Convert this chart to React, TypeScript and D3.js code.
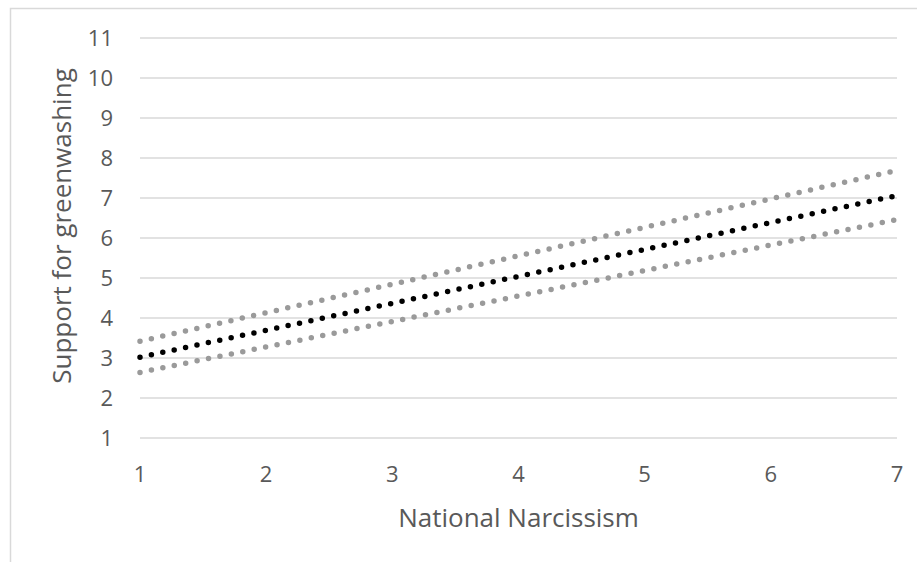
import React, { useEffect } from "react";
import * as d3 from "d3";

const xTicks = [1, 2, 3, 4, 5, 6, 7];
const yTicks = [1, 2, 3, 4, 5, 6, 7, 8, 9, 10, 11];
const xEnds = [1, 7];
const mainLine = [3.02, 7.06];
const upperBand = [3.42, 7.69];
const lowerBand = [2.64, 6.46];
const xTitle = "National Narcissism";
const yTitle = "Support for greenwashing";

const W = 917;
const H = 562;
const FONT = "'Open Sans', sans-serif";
const TEXT = "#595959";
const GRID = "#d9d9d9";

export default function App() {
  useEffect(() => {
    document.body.style.margin = "0";
  }, []);

  const x = d3.scaleLinear().domain([1, 7]).range([140, 897]);
  const y = d3.scaleLinear().domain([1, 11]).range([438, 38]);

  const line = d3
    .line<[number, number]>()
    .x((d) => x(d[0]))
    .y((d) => y(d[1]));

  const series = [
    { vals: upperBand, color: "#9a9a9a" },
    { vals: lowerBand, color: "#9a9a9a" },
    { vals: mainLine, color: "#000000" },
  ];

  return (
    <svg width={W} height={H} style={{ display: "block" }}>
      <rect width={W} height={H} fill="#ffffff" />
      <rect x={10.5} y={8.5} width={2000} height={2000} fill="none" stroke={GRID} strokeWidth={1.5} />
      {yTicks.map((t) => (
        <line key={"g" + t} x1={x(1)} x2={x(7)} y1={y(t)} y2={y(t)} stroke={GRID} strokeWidth={1.5} />
      ))}
      {yTicks.map((t) => (
        <text key={"yl" + t} x={113} y={y(t) + 7.8} textAnchor="end" fontFamily={FONT} fontSize={22} fill={TEXT}>
          {t}
        </text>
      ))}
      {xTicks.map((t) => (
        <text key={"xl" + t} x={x(t)} y={482} textAnchor="middle" fontFamily={FONT} fontSize={22} fill={TEXT}>
          {t}
        </text>
      ))}
      {series.map((s, i) => (
        <path
          key={"s" + i}
          d={line(xEnds.map((xv, j) => [xv, s.vals[j]] as [number, number])) || ""}
          fill="none"
          stroke={s.color}
          strokeWidth={5.5}
          strokeLinecap="round"
          strokeDasharray="0 11.65"
        />
      ))}
      <text x={(x(1) + x(7)) / 2} y={527} textAnchor="middle" fontFamily={FONT} fontSize={26} fill={TEXT}>
        {xTitle}
      </text>
      <text
        transform={`translate(71, ${(y(1) + y(11)) / 2 - 12}) rotate(-90)`}
        textAnchor="middle"
        fontFamily={FONT}
        fontSize={26}
        fill={TEXT}
      >
        {yTitle}
      </text>
    </svg>
  );
}
